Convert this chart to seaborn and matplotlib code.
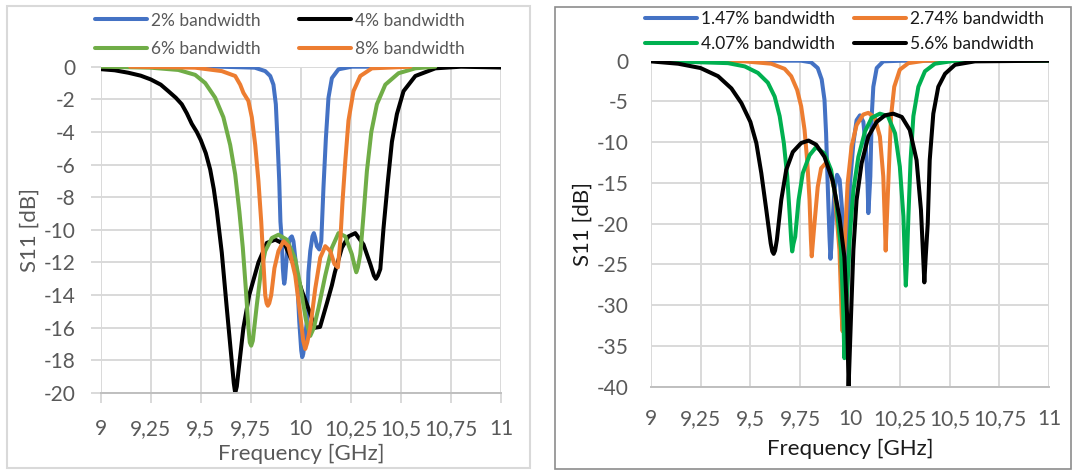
import matplotlib
matplotlib.use("Agg")
import matplotlib.pyplot as plt
import seaborn as sns
import pandas as pd
from matplotlib.patches import Rectangle

# ---------------- data ----------------
x_ticks = [9.0, 9.25, 9.5, 9.75, 10.0, 10.25, 10.5, 10.75, 11.0]
x_tick_labels = ["9", "9,25", "9,5", "9,75", "10", "10,25", "10,5", "10,75", "11"]
left_y_ticks = [0, -2, -4, -6, -8, -10, -12, -14, -16, -18, -20]
right_y_ticks = [0, -5, -10, -15, -20, -25, -30, -35, -40]

# Left chart
L2_f = [9.0, 9.6, 9.77, 9.822, 9.847, 9.863, 9.875, 9.883, 9.892, 9.898, 9.905, 9.91, 9.914, 9.917,
        9.921, 9.925, 9.933, 9.947, 9.955, 9.963, 9.98, 9.992, 10.002, 10.007, 10.012, 10.018, 10.03,
        10.038, 10.047, 10.058, 10.065, 10.072, 10.08, 10.092, 10.102, 10.113, 10.125, 10.138, 10.155,
        10.188, 10.255, 10.4]
L2_s = [0, 0, -0.06, -0.27, -0.57, -1.1, -2.3, -4.4, -7.0, -9.5, -10.7, -12.35, -13.0, -13.3,
        -13.0, -12.35, -11.1, -10.5, -10.4, -10.7, -12.6, -15.6, -17.4, -17.8, -17.6, -17.0, -15.6,
        -12.6, -11.3, -10.4, -10.2, -10.5, -11.0, -11.2, -10.7, -7.4, -4.4, -1.9, -0.7,
        -0.16, 0, 0]

L4_f = [9.0, 9.07, 9.138, 9.2, 9.25, 9.3, 9.338, 9.375, 9.405, 9.43, 9.455, 9.48, 9.5, 9.525, 9.547,
        9.565, 9.58, 9.605, 9.63, 9.655, 9.665,
        9.672, 9.68, 9.688, 9.713, 9.742, 9.788, 9.83, 9.872, 9.92, 9.963, 10.004, 10.046, 10.07,
        10.096, 10.13, 10.155, 10.17, 10.205, 10.238, 10.272, 10.313, 10.347, 10.365, 10.375, 10.385,
        10.397, 10.413, 10.435, 10.455, 10.48, 10.513, 10.572, 10.672, 10.8, 11.0]
L4_s = [-0.15, -0.22, -0.37, -0.55, -0.78, -1.1, -1.5, -1.9, -2.3, -2.85, -3.5, -4.0, -4.5, -5.3, -6.3,
        -7.5, -8.8, -11.4, -14.8, -18.1, -19.4,
        -20.0, -19.6, -18.7, -16.0, -14.0, -12.0, -10.8, -10.6, -10.9, -12.1, -13.7, -15.1, -16.0,
        -15.95, -14.5, -13.4, -12.6, -11.1, -10.4, -10.2, -10.9, -12.1, -12.8, -13.0, -12.8,
        -12.4, -9.9, -7.0, -4.6, -2.9, -1.5, -0.57, -0.1, 0, -0.05]

L6_f = [9.0, 9.25, 9.388, 9.472, 9.522, 9.572, 9.613, 9.647, 9.672, 9.693, 9.71, 9.725, 9.738, 9.745,
        9.752, 9.76, 9.78, 9.8, 9.822, 9.855, 9.888, 9.93, 9.972, 10.0, 10.025, 10.047, 10.065, 10.088,
        10.122, 10.155, 10.188, 10.222, 10.255, 10.27, 10.277, 10.285, 10.297, 10.313, 10.33, 10.352,
        10.38, 10.422, 10.488, 10.572, 10.672]
L6_s = [0, -0.06, -0.2, -0.5, -1.0, -1.9, -3.1, -4.8, -6.6, -8.9, -11.1, -13.6, -16.0, -16.9,
        -17.1, -16.8, -14.6, -12.6, -11.3, -10.5, -10.3, -10.6, -11.8, -13.6, -15.5, -16.5, -16.0, -14.8,
        -12.8, -11.1, -10.2, -10.4, -11.5, -12.3, -12.6, -12.3, -11.5, -9.1, -6.4, -4.0,
        -2.3, -1.1, -0.4, -0.1, 0]

L8_f = [9.147, 9.472, 9.605, 9.672, 9.697, 9.713, 9.738, 9.755, 9.772, 9.788, 9.802, 9.813, 9.822,
        9.829, 9.835, 9.842, 9.852, 9.868, 9.888, 9.913, 9.938, 9.972, 9.997, 10.012, 10.022, 10.032,
        10.047, 10.072, 10.097, 10.122, 10.147, 10.168, 10.185, 10.197, 10.208, 10.222, 10.238, 10.263,
        10.297, 10.355, 10.547]
L8_s = [0, -0.06, -0.27, -0.57, -1.1, -1.6, -2.1, -3.1, -4.8, -7.0, -9.5, -12.0, -14.0,
        -14.5, -14.65, -14.5, -14.0, -12.35, -11.3, -10.7, -11.0, -12.8, -15.2, -16.8, -17.3, -16.9,
        -16.0, -13.6, -11.7, -11.0, -11.3, -12.1, -12.3, -10.7, -8.3, -5.8, -3.3, -1.5,
        -0.57, -0.1, 0]

# Right chart
R147_f = [9.0, 9.755, 9.805, 9.838, 9.858, 9.872, 9.88, 9.888, 9.897, 9.902, 9.906, 9.91, 9.922,
          9.935, 9.948, 9.963, 9.975, 9.982, 9.99, 10.0, 10.017, 10.033, 10.05, 10.067, 10.08, 10.088,
          10.092, 10.096, 10.102, 10.109, 10.117, 10.134, 10.167, 10.26, 11.0]
R147_s = [0, 0, -0.2, -0.9, -2.3, -4.8, -8.9, -15.1, -21.6, -24.3, -23.0, -20.8, -15.9,
          -14.0, -14.6, -19.1, -25.0, -28.0, -22.0, -15.1, -10.1, -7.3, -6.7, -7.5, -10.9, -15.0,
          -18.7, -17.0, -14.2, -6.8, -3.2, -0.9, -0.08, 0, 0]

R274_f = [9.0, 9.472, 9.605, 9.672, 9.705, 9.735, 9.755, 9.772, 9.785, 9.797, 9.804, 9.808, 9.813,
          9.822, 9.838, 9.855, 9.877, 9.897, 9.922, 9.947, 9.958, 9.963, 9.967, 9.972, 9.988, 10.008,
          10.033, 10.067, 10.092, 10.125, 10.15, 10.167, 10.175, 10.179, 10.184, 10.192, 10.206,
          10.222, 10.25, 10.293, 10.376, 11.0]
R274_s = [0, -0.08, -0.37, -1.0, -1.9, -3.6, -5.6, -8.5, -12.2, -17.1, -22.0, -24.0, -22.5,
          -19.9, -15.5, -13.2, -12.6, -13.2, -15.9, -23.2, -31.0, -33.2, -28.0, -23.2, -15.1, -10.5,
          -7.9, -6.6, -6.4, -7.0, -9.3, -14.2, -20.0, -23.3, -20.0, -15.1, -6.8,
          -3.2, -1.1, -0.3, 0, 0]

R407_f = [9.0, 9.388, 9.472, 9.538, 9.588, 9.622, 9.647, 9.668, 9.685, 9.698, 9.705, 9.71, 9.716,
          9.725, 9.742, 9.763, 9.797, 9.83, 9.872, 9.905, 9.93, 9.955, 9.965, 9.972, 9.978, 9.988,
          10.0, 10.017, 10.042, 10.075, 10.109, 10.15, 10.19, 10.226, 10.25, 10.268, 10.276, 10.28,
          10.285, 10.293, 10.304, 10.318, 10.343, 10.376, 10.426, 10.527, 11.0]
R407_s = [0, -0.3, -0.7, -1.5, -2.7, -4.4, -6.8, -10.1, -14.2, -19.1, -22.0, -23.4, -22.5,
          -21.6, -17.1, -13.8, -11.6, -10.6, -11.4, -13.4, -17.1, -23.2, -30.0, -36.5, -32.0, -27.3,
          -21.2, -15.9, -11.8, -8.7, -7.0, -6.5, -6.8, -8.9, -13.0, -19.1, -25.0, -27.6,
          -25.0, -19.1, -12.2, -6.8, -3.2, -1.3, -0.37, 0, 0]

R56_f = [9.0, 9.138, 9.25, 9.338, 9.405, 9.455, 9.5, 9.53, 9.555, 9.58, 9.602, 9.61, 9.617, 9.624,
         9.633, 9.655, 9.68, 9.713, 9.755, 9.792, 9.83, 9.872, 9.913, 9.947, 9.972, 9.985, 9.993,
         10.005, 10.017, 10.033, 10.058, 10.092, 10.134, 10.176, 10.217, 10.26, 10.3, 10.334, 10.356,
         10.367, 10.373, 10.38, 10.39, 10.4, 10.418, 10.443, 10.477, 10.527, 10.627, 11.0]
R56_s = [-0.08, -0.37, -0.9, -1.9, -3.4, -5.2, -7.5, -10.1, -13.8, -18.3, -22.4, -23.4, -23.7, -23.3,
         -22.0, -17.1, -13.4, -11.2, -10.1, -9.8, -10.3, -11.8, -14.7, -19.2, -24.1, -31.0, -40.0,
         -31.4, -23.2, -17.1, -12.6, -9.3, -7.5, -6.7, -6.5, -6.9, -8.5, -12.2, -18.3,
         -24.0, -27.2, -24.0, -20.0, -12.2, -6.5, -3.2, -1.6, -0.5, -0.08, 0]

left_series = [("2% bandwidth", L2_f, L2_s, "#4472C4"),
               ("4% bandwidth", L4_f, L4_s, "#000000"),
               ("6% bandwidth", L6_f, L6_s, "#70AD47"),
               ("8% bandwidth", L8_f, L8_s, "#ED7D31")]
right_series = [("1.47% bandwidth", R147_f, R147_s, "#4472C4"),
                ("2.74% bandwidth", R274_f, R274_s, "#ED7D31"),
                ("4.07% bandwidth", R407_f, R407_s, "#00B050"),
                ("5.6% bandwidth", R56_f, R56_s, "#000000")]

# ---------------- style ----------------
sns.set_theme(style="white")
plt.rcParams['font.family'] = ['Lato', 'DejaVu Sans']

W, H = 1075, 471
fig = plt.figure(figsize=(W / 100, H / 100), dpi=100)

# panel frames
fig.patches.append(Rectangle((7 / W, 1 - 468 / H), (530 - 7) / W, (468 - 6) / H,
                             transform=fig.transFigure, fill=False, ec="#d9d9d9", lw=1.5))
fig.patches.append(Rectangle((555 / W, 1 - 469 / H), (1071 - 555) / W, (469 - 7) / H,
                             transform=fig.transFigure, fill=False, ec="#8c8c8c", lw=1.2))

GRAY = "#595959"
DARK = "#1a1a1a"
GRID = "#d9d9d9"
LW = 2.9
FS_TICK = 15
FS_LAB = 16
FS_LEG = 12.5


def draw(ax, series):
    for lab, f, s, c in series:
        df = pd.DataFrame({"f": f, "s": s})
        sns.lineplot(data=df, x="f", y="s", ax=ax, color=c, lw=LW, label=lab,
                     estimator=None, sort=False, solid_joinstyle="round", solid_capstyle="round")
    ax.set_xlim(9, 11)
    ax.set_xticks(x_ticks)
    ax.set_xticklabels(x_tick_labels)
    ax.grid(True, color=GRID, lw=1.4)
    ax.set_axisbelow(True)
    for sp in ["top", "right", "left"]:
        ax.spines[sp].set_visible(False)
    ax.spines["bottom"].set_color("#bfbfbf")
    ax.spines["bottom"].set_linewidth(1.4)


def row_legend(ax, anchor, colspacing, labelspacing, color):
    h, l = ax.get_legend_handles_labels()
    order = [0, 2, 1, 3]  # fill row by row
    leg = ax.legend([h[i] for i in order], [l[i] for i in order], loc="upper left",
                    bbox_to_anchor=anchor, bbox_transform=fig.transFigure, ncol=2, frameon=False,
                    fontsize=FS_LEG, handlelength=3.0, handletextpad=0.22,
                    columnspacing=colspacing, labelspacing=labelspacing, borderpad=0, borderaxespad=0)
    for t in leg.get_texts():
        t.set_color(color)
    return leg


# Left chart
axL = fig.add_axes([100.7 / W, 1 - 393 / H, 400.3 / W, 326.3 / H])
draw(axL, left_series)
axL.set_ylim(-20, 0)
axL.set_yticks(left_y_ticks)
axL.set_yticklabels([str(v) for v in left_y_ticks])
axL.tick_params(axis="both", labelsize=FS_TICK, labelcolor=GRAY, colors=GRID, length=7, width=1.4,
                bottom=True, left=True)
axL.tick_params(axis="x", pad=11.5)
axL.tick_params(axis="y", pad=11)
axL.set_xlabel("Frequency [GHz]", fontsize=FS_LAB, color=GRAY, labelpad=4)
axL.set_ylabel("S11 [dB]", fontsize=FS_LAB, color=GRAY, labelpad=3)
row_legend(axL, (95 / W, 1 - 12.5 / H), 2.2, 0.72, GRAY)

# Right chart
axR = fig.add_axes([650.7 / W, 1 - 386.7 / H, 398.6 / W, 326 / H])
draw(axR, right_series)
axR.set_ylim(-40, 0)
axR.set_yticks(right_y_ticks)
axR.set_yticklabels([str(v) for v in right_y_ticks])
axR.tick_params(axis="both", labelsize=FS_TICK, labelcolor=GRAY, length=0, bottom=False, left=False)
axR.tick_params(axis="x", pad=16)
axR.tick_params(axis="y", pad=16)
axR.set_xlabel("Frequency [GHz]", fontsize=FS_LAB, color=DARK, labelpad=7)
axR.set_ylabel("S11 [dB]", fontsize=FS_LAB, color=DARK, labelpad=3)
row_legend(axR, (645 / W, 1 - 11 / H), 1.1, 0.5, DARK)

fig.savefig("out.png", dpi=100)
